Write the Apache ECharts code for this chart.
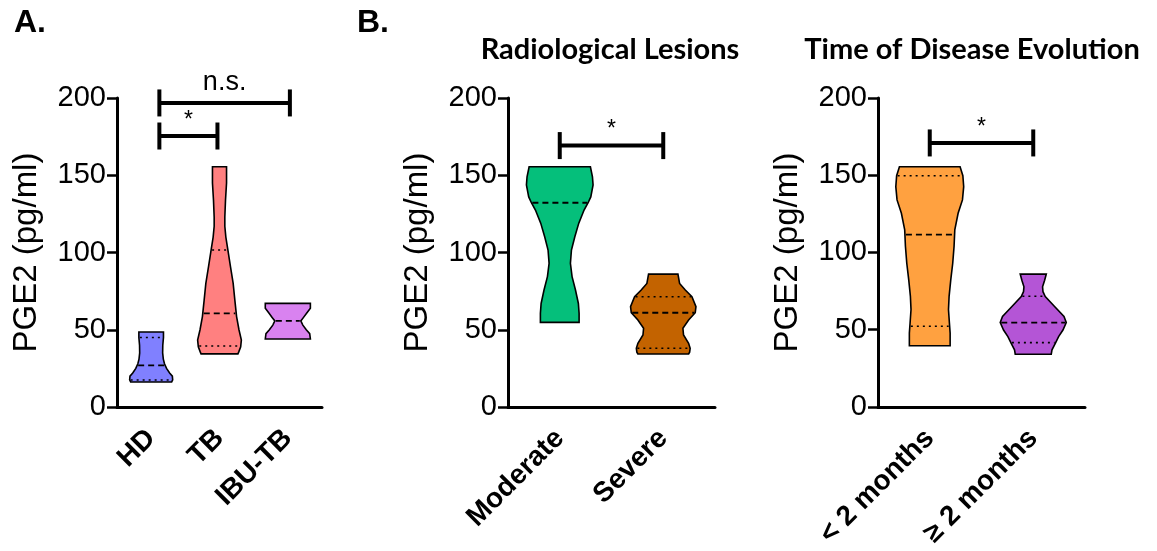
<!DOCTYPE html>
<html>
<head>
<meta charset="utf-8">
<title>PGE2 violin plots</title>
<script src="https://cdn.jsdelivr.net/npm/echarts@6/dist/echarts.min.js"></script>
<style>
  html, body { margin: 0; padding: 0; background: #fff; }
  #main { width: 1157px; height: 551px; }
</style>
</head>
<body>
<div id="main"></div>
<script>
// categories of the three panels
var catsA = ['HD', 'TB', 'IBU-TB'];
var catsLesion = ['Moderate', 'Severe'];
var catsTime = ['< 2 months', '\u2265 2 months'];

// violin outlines, top to bottom: [PGE2 pg/ml, half width as share of the category band]
var hdShape = [[48.5, .18], [45, .18], [40, .17], [35, .168], [31, .178], [28, .195], [25, .225], [22, .27], [20, .31], [17.5, .315], [16.2, .30]];
var tbShape = [[155.5, .103], [145, .103], [134, .088], [123, .078], [117, .078], [110, .093], [101.6, .123], [91, .16], [80, .2], [69, .225], [58.5, .25], [50, .285], [43.4, .32], [39, .31], [36, .285], [34.4, .27]];
var ibuShape = [[67.1, .33], [64, .33], [61, .28], [58, .23], [55.7, .19], [53, .22], [50, .27], [47.5, .32], [44, .33]];
var moderateShape = [[155.5, .296], [149, .316], [143.7, .322], [136, .30], [132.2, .274], [127.5, .235], [119, .184], [110, .145], [101.6, .113], [93, .103], [84.4, .119], [75.7, .152], [67, .18], [60.6, .187], [54.8, .187]];
var severeShape = [[86, .142], [80, .158], [75.7, .213], [71.4, .277], [65, .316], [61, .309], [56.3, .245], [51, .19], [46.6, .196], [41.2, .245], [38, .26], [35.5, .255], [34.3, .245]];
var lessShape = [[155.5, .293], [149.7, .32], [142.6, .328], [134, .316], [125.4, .274], [114.6, .242], [104, .235], [93, .222], [82.3, .203], [71.6, .187], [63, .181], [54.3, .19], [47.8, .197], [39.6, .197]];
var moreShape = [[86, .126], [82, .11], [77.8, .09], [74.6, .094], [71.4, .116], [65, .206], [58.5, .297], [54.6, .319], [49.8, .287], [45.5, .245], [41.2, .213], [37, .181], [34.1, .174]];

// medians and quartiles (null = not drawn)
var medianA = [27, 60.6, 55.7];
var q1A = [17.5, 39.5, null];
var q3A = [45, 101.6, null];
var medianLesion = [132.2, 61];
var q1Lesion = [null, 38];
var q3Lesion = [null, 71.4];
var medianTime = [111.5, 54.6];
var q1Time = [52.2, 41.6];
var q3Time = [149.7, 71.6];

// significance brackets: [from category, to category, height pg/ml, text]
var bracketsA = [[0.12, 2.03, 196.8, 'n.s.'], [0.12, 0.97, 175.4, '*']];
var bracketsLesion = [[0, 1, 169.2, '*']];
var bracketsTime = [[0, 1, 170.9, '*']];

var colorsA = ['#8080ff', '#ff8080', '#d982f0'];
var colorsLesion = ['#05bf7b', '#c36300'];
var colorsTime = ['#ffa140', '#b455d6'];

var yTicks = [0, 50, 100, 150, 200];

function halfAt(shape, v) {
    for (var k = 0; k < shape.length - 1; k++) {
        var a = shape[k], b = shape[k + 1];
        if (v <= a[0] && v >= b[0]) {
            return a[1] + (b[1] - a[1]) * (a[0] - v) / (a[0] - b[0]);
        }
    }
    return shape[shape.length - 1][1];
}

function violinSeries(gi, shapes, medians, q1s, q3s, colors) {
    var data = [];
    for (var i = 0; i < shapes.length; i++) data.push([i, medians[i]]);
    return {
        type: 'custom',
        xAxisIndex: gi,
        yAxisIndex: gi,
        data: data,
        silent: true,
        renderItem: function (params, api) {
            var i = api.value(0);
            var shape = shapes[i];
            var band = api.size([1, 0])[0];
            var cx = api.coord([i, 0])[0];
            var pts = [];
            shape.forEach(function (p) {
                pts.push([cx + p[1] * band, api.coord([i, p[0]])[1]]);
            });
            shape.slice().reverse().forEach(function (p) {
                pts.push([cx - p[1] * band, api.coord([i, p[0]])[1]]);
            });
            var children = [{
                type: 'polygon',
                shape: { points: pts },
                style: { fill: colors[i], stroke: '#000', lineWidth: 1.6 }
            }];
            function qline(v, dash, w) {
                if (v === null || v === undefined) return;
                var h = halfAt(shape, v) * band - 1;
                var y = api.coord([i, v])[1];
                children.push({
                    type: 'line',
                    shape: { x1: cx - h, y1: y, x2: cx + h, y2: y },
                    style: { stroke: '#000', lineWidth: w, lineDash: dash }
                });
            }
            qline(medians[i], [6, 4], 1.8);
            qline(q1s[i], [2, 4], 1.6);
            qline(q3s[i], [2, 4], 1.6);
            return { type: 'group', children: children };
        }
    };
}

function bracketSeries(gi, brackets) {
    return {
        type: 'custom',
        xAxisIndex: gi,
        yAxisIndex: gi,
        data: brackets.map(function (b) { return [b[0], b[2]]; }),
        silent: true,
        renderItem: function (params, api) {
            var b = brackets[params.dataIndex];
            var band = api.size([1, 0])[0];
            var c0 = api.coord([0, b[2]]);
            var x1 = c0[0] + b[0] * band;
            var x2 = c0[0] + b[1] * band;
            var y = c0[1];
            var st = { stroke: '#000', lineWidth: 4 };
            return {
                type: 'group',
                children: [
                    { type: 'line', shape: { x1: x1, y1: y, x2: x2, y2: y }, style: st },
                    { type: 'line', shape: { x1: x1, y1: y - 13.5, x2: x1, y2: y + 13.5 }, style: st },
                    { type: 'line', shape: { x1: x2, y1: y - 13.5, x2: x2, y2: y + 13.5 }, style: st },
                    {
                        type: 'text',
                        style: {
                            text: b[3], x: (x1 + x2) / 2, y: b[3] === '*' ? y - 4 : y - 7,
                            fill: '#000',
                            font: (b[3] === '*' ? '23px' : '27px') + ' "Liberation Sans", Arial, sans-serif',
                            textAlign: 'center', textVerticalAlign: 'bottom'
                        }
                    }
                ]
            };
        }
    };
}

function xAxisFor(gi, cats) {
    return {
        type: 'category',
        gridIndex: gi,
        data: cats,
        boundaryGap: true,
        axisLine: { lineStyle: { color: '#000', width: 3 } },
        axisTick: { alignWithLabel: true, length: 10, lineStyle: { color: '#000', width: 2.5 } },
        axisLabel: {
            rotate: 45, margin: 27, color: '#000', fontSize: 28, fontWeight: 'bold',
            fontFamily: 'Liberation Sans', interval: 0
        },
        splitLine: { show: false }
    };
}

function yAxisFor(gi) {
    return {
        type: 'value',
        gridIndex: gi,
        min: yTicks[0],
        max: yTicks[yTicks.length - 1],
        interval: yTicks[1] - yTicks[0],
        name: 'PGE2 (pg/ml)',
        nameLocation: 'middle',
        nameGap: 74,
        nameTextStyle: { color: '#000', fontSize: 33, fontFamily: 'Liberation Sans' },
        axisLine: { show: true, lineStyle: { color: '#000', width: 3 } },
        axisTick: { show: true, length: 10, lineStyle: { color: '#000', width: 2.5 } },
        axisLabel: { color: '#000', fontSize: 29, margin: 11, fontFamily: 'Liberation Sans' },
        splitLine: { show: false }
    };
}

var chart = echarts.init(document.getElementById('main'));

var option = {
    animation: false,
    backgroundColor: '#fff',
    title: [
        { text: 'A.', left: 14, top: 7, padding: 0, textStyle: { fontSize: 32, fontWeight: 'bold', color: '#000', fontFamily: 'Liberation Sans' } },
        { text: 'B.', left: 357, top: 7, padding: 0, textStyle: { fontSize: 32, fontWeight: 'bold', color: '#000', fontFamily: 'Liberation Sans' } },
        { text: 'Radiological Lesions', left: 610, textAlign: 'center', top: 35, padding: 0, textStyle: { fontSize: 29, fontWeight: 'bold', color: '#000', fontFamily: 'Lato' } },
        { text: 'Time of Disease Evolution', left: 972, textAlign: 'center', top: 35, padding: 0, textStyle: { fontSize: 29, fontWeight: 'bold', color: '#000', fontFamily: 'Lato' } }
    ],
    grid: [
        { left: 117, top: 98, width: 205, height: 309 },
        { left: 508, top: 98, width: 207, height: 309 },
        { left: 878, top: 98, width: 207, height: 309 }
    ],
    xAxis: [xAxisFor(0, catsA), xAxisFor(1, catsLesion), xAxisFor(2, catsTime)],
    yAxis: [yAxisFor(0), yAxisFor(1), yAxisFor(2)],
    series: [
        violinSeries(0, [hdShape, tbShape, ibuShape], medianA, q1A, q3A, colorsA),
        violinSeries(1, [moderateShape, severeShape], medianLesion, q1Lesion, q3Lesion, colorsLesion),
        violinSeries(2, [lessShape, moreShape], medianTime, q1Time, q3Time, colorsTime),
        bracketSeries(0, bracketsA),
        bracketSeries(1, bracketsLesion),
        bracketSeries(2, bracketsTime)
    ]
};

chart.setOption(option);
</script>
</body>
</html>
